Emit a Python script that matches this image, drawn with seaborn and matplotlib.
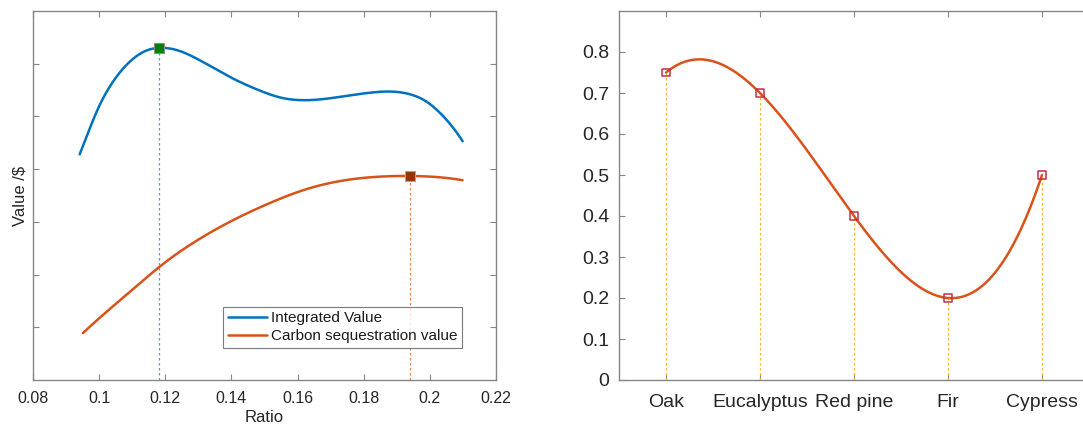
import numpy as np
import pandas as pd
import seaborn as sns
import matplotlib
matplotlib.use("Agg")
import matplotlib.pyplot as plt
from matplotlib.ticker import FuncFormatter

# ---------------- data ----------------
ratio_int = [0.0941, 0.0972, 0.1002, 0.1042, 0.1093, 0.1143, 0.1181, 0.1234, 0.1294,
             0.1395, 0.1486, 0.1547, 0.1637, 0.1738, 0.1819, 0.1889, 0.1940, 0.1990,
             0.2041, 0.2071, 0.2099]
value_int = [4.28, 4.78, 5.22, 5.66, 6.04, 6.25, 6.30, 6.26, 6.10,
             5.75, 5.49, 5.36, 5.31, 5.38, 5.45, 5.47, 5.42, 5.28,
             5.00, 4.78, 4.53]
ratio_carbon = [0.0951, 0.1042, 0.1113, 0.1181, 0.1294, 0.1395, 0.1506, 0.1607,
                0.1708, 0.1809, 0.1940, 0.2021, 0.2099]
value_carbon = [0.89, 1.40, 1.78, 2.14, 2.64, 3.00, 3.33, 3.58,
                3.75, 3.84, 3.87, 3.85, 3.79]
peak_int = (0.1181, 6.30)
peak_carbon = (0.1940, 3.87)

species = ["Oak", "Eucalyptus", "Red pine", "Fir", "Cypress"]
species_values = [0.75, 0.70, 0.40, 0.20, 0.50]

x_ticks_left = [0.08, 0.10, 0.12, 0.14, 0.16, 0.18, 0.20, 0.22]
y_ticks_right = [0, 0.1, 0.2, 0.3, 0.4, 0.5, 0.6, 0.7, 0.8]


def spline_curve(xk, yk, xs):
    """Cubic spline with not-a-knot end conditions (like MATLAB spline)."""
    xk = np.asarray(xk, float); yk = np.asarray(yk, float)
    n = len(xk) - 1
    A = np.zeros((4 * n, 4 * n)); b = np.zeros(4 * n)
    r = 0
    for i in range(n):
        h = xk[i + 1] - xk[i]
        A[r, 4*i:4*i+4] = [1, 0, 0, 0]; b[r] = yk[i]; r += 1
        A[r, 4*i:4*i+4] = [1, h, h**2, h**3]; b[r] = yk[i + 1]; r += 1
    for i in range(n - 1):
        h = xk[i + 1] - xk[i]
        A[r, 4*i:4*i+4] = [0, 1, 2*h, 3*h**2]; A[r, 4*(i+1)+1] = -1; r += 1
        A[r, 4*i:4*i+4] = [0, 0, 2, 6*h]; A[r, 4*(i+1)+2] = -2; r += 1
    A[r, 3] = 1; A[r, 7] = -1; r += 1
    A[r, 4*(n-2)+3] = 1; A[r, 4*(n-1)+3] = -1; r += 1
    coef = np.linalg.solve(A, b).reshape(n, 4)
    xs = np.asarray(xs, float)
    idx = np.clip(np.searchsorted(xk, xs, side="right") - 1, 0, n - 1)
    t = xs - xk[idx]
    c = coef[idx]
    return c[:, 0] + c[:, 1]*t + c[:, 2]*t**2 + c[:, 3]*t**3


sns.set_theme(style="white")
plt.rcParams["font.family"] = ["Liberation Sans", "DejaVu Sans"]

fig = plt.figure(figsize=(10.83, 4.28), dpi=100)
ax1 = fig.add_axes([33/1083, 48/428, 463/1083, 369/428])
ax2 = fig.add_axes([619/1083, 48/428, 470/1083, 369/428])

spine_col = "#868686"
text_col = "#262626"
blue = "#0072BD"
orange = "#D95319"

# ---------------- left panel ----------------
xi = np.linspace(ratio_int[0], ratio_int[-1], 400)
xc = np.linspace(ratio_carbon[0], ratio_carbon[-1], 400)
df_int = pd.DataFrame({"Ratio": xi, "Value": spline_curve(ratio_int, value_int, xi)})
df_car = pd.DataFrame({"Ratio": xc, "Value": spline_curve(ratio_carbon, value_carbon, xc)})
sns.lineplot(data=df_int, x="Ratio", y="Value", ax=ax1, color=blue, lw=1.8,
             label="Integrated Value", sort=False)
sns.lineplot(data=df_car, x="Ratio", y="Value", ax=ax1, color=orange, lw=1.8,
             label="Carbon sequestration value", sort=False)
ax1.plot([peak_int[0], peak_int[0]], [0, peak_int[1]], ls=(0, (2, 2)), lw=0.9,
         color="#5a9bd5", zorder=1)
ax1.plot([peak_carbon[0], peak_carbon[0]], [0, peak_carbon[1]], ls=(0, (2, 2)), lw=0.9,
         color="#f08050", zorder=1)
ax1.plot([peak_int[0]], [peak_int[1]], marker="s", ms=7.5, mfc="#008000",
         mec="#8a8a9a", mew=0.8, ls="none", zorder=5)
ax1.plot([peak_carbon[0]], [peak_carbon[1]], marker="s", ms=7.5, mfc="#993300",
         mec="#7fb0d0", mew=0.8, ls="none", zorder=5)

ax1.set_xlim(0.08, 0.22)
ax1.set_ylim(0, 7)
ax1.set_xticks(x_ticks_left)
ax1.xaxis.set_major_formatter(FuncFormatter(lambda v, p: f"{v:g}"))
ax1.set_yticks([1, 2, 3, 4, 5, 6])
ax1.set_yticklabels([])
ax1.set_xlabel("Ratio", fontsize=12, color=text_col, labelpad=3)
ax1.set_ylabel("Value /\\$", fontsize=12, color=text_col)
ax1.yaxis.set_label_coords(-0.012, 0.5)
ax1.tick_params(axis="both", direction="in", length=4, width=0.8, color=spine_col,
                top=True, right=True, bottom=True, left=True, labelsize=11.5,
                labelcolor=text_col, pad=8)
for s in ax1.spines.values():
    s.set_color(spine_col); s.set_linewidth(1.0); s.set_visible(True)
leg = ax1.legend(loc="lower right", bbox_to_anchor=(0.927, 0.087), fontsize=11,
                 frameon=True, fancybox=False, handlelength=2.6, handletextpad=0.25,
                 borderpad=0.3, labelspacing=0.25, borderaxespad=0)
leg.get_frame().set_edgecolor("#5a5a5a")
leg.get_frame().set_linewidth(0.8)
for t in leg.get_texts():
    t.set_color("#1a1a1a")

# ---------------- right panel ----------------
pos = np.arange(1, len(species) + 1)
xs = np.linspace(1, len(species), 400)
ys = spline_curve(pos, species_values, xs)
df_curve = pd.DataFrame({"x": xs, "y": ys})
sns.lineplot(data=df_curve, x="x", y="y", ax=ax2, color=orange, lw=1.8)
for p, v in zip(pos, species_values):
    ax2.plot([p, p], [0, v], ls=(0, (2, 2)), lw=0.9, color="#f5b82e", zorder=1)
sns.scatterplot(x=pos, y=species_values, ax=ax2, marker="s", s=30,
                facecolor="none", edgecolor="#c0304a", linewidth=1.1, zorder=5)

ax2.set_xlim(0.5, 5.5)
ax2.set_ylim(0, 0.9)
ax2.set_xticks(pos)
ax2.set_xticklabels(species)
ax2.set_yticks(y_ticks_right)
ax2.yaxis.set_major_formatter(FuncFormatter(lambda v, p: f"{v:g}"))
ax2.set_xlabel(""); ax2.set_ylabel("")
ax2.tick_params(axis="both", direction="in", length=4, width=0.8, color=spine_col,
                top=True, right=True, bottom=True, left=True, labelsize=14,
                labelcolor=text_col)
ax2.tick_params(axis="x", pad=10)
ax2.tick_params(axis="y", pad=7)
for s in ax2.spines.values():
    s.set_color(spine_col); s.set_linewidth(1.0); s.set_visible(True)

fig.savefig("out.png", dpi=100)
